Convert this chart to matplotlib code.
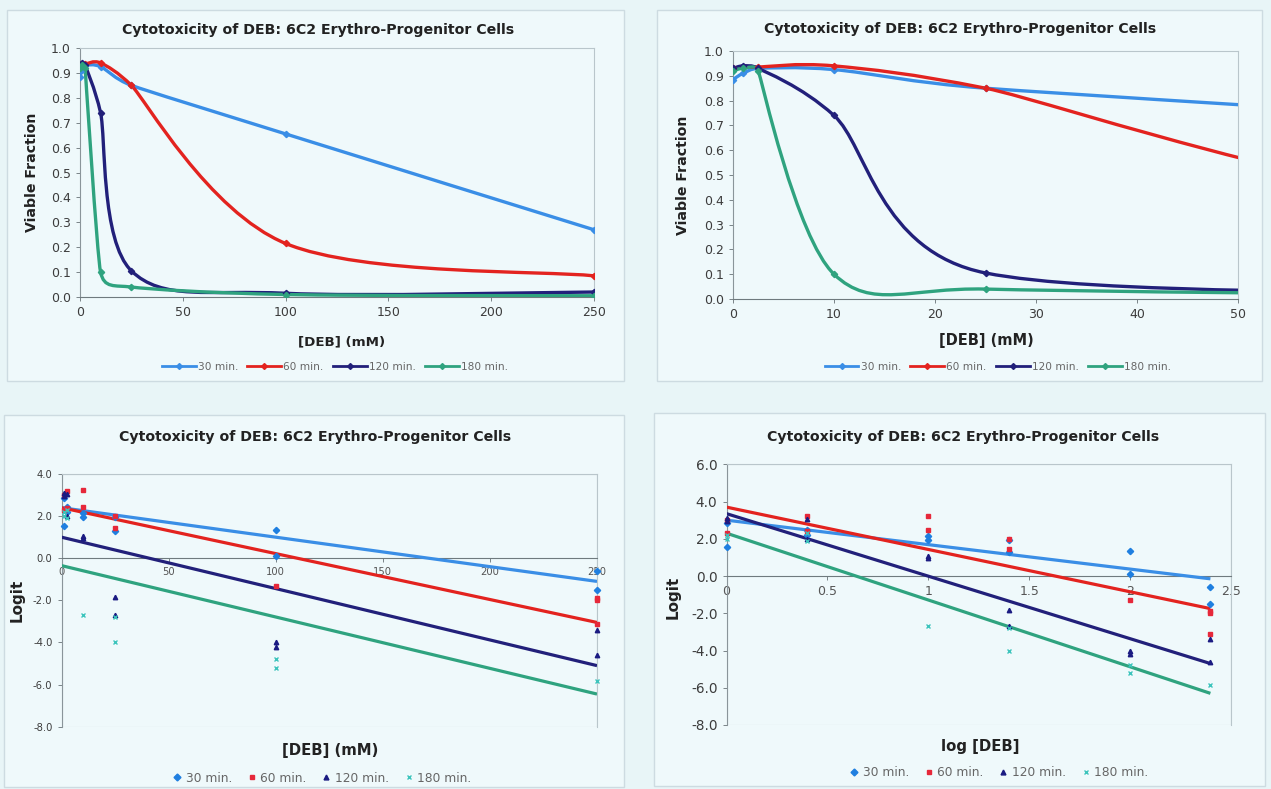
import numpy as np
import matplotlib
matplotlib.use('Agg')
import matplotlib.pyplot as plt
from matplotlib.path import Path
from matplotlib.patches import PathPatch, Rectangle
from matplotlib.lines import Line2D

# viability data (mean viable fraction) vs [DEB] mM
deb = [0, 1, 2.5, 10, 25, 100, 250]
via_30 = [0.885, 0.91, 0.93, 0.925, 0.85, 0.655, 0.27]
via_60 = [0.93, 0.935, 0.935, 0.94, 0.85, 0.215, 0.085]
via_120 = [0.93, 0.94, 0.93, 0.74, 0.105, 0.015, 0.02]
via_180 = [0.92, 0.93, 0.92, 0.10, 0.04, 0.01, 0.005]

# logit of replicates
conc_30 = [1, 1, 2.5, 2.5, 10, 10, 25, 25, 100, 100, 250, 250]
logit_30 = [1.55, 2.85, 2.45, 2.2, 2.15, 1.95, 1.95, 1.3, 1.35, 0.1, -0.6, -1.5]
conc_60 = [1, 1, 2.5, 2.5, 10, 10, 25, 25, 100, 250, 250, 250]
logit_60 = [3.0, 2.3, 3.2, 2.4, 3.25, 2.45, 2.0, 1.45, -1.3, -1.9, -2.0, -3.1]
conc_120 = [1, 1, 2.5, 2.5, 10, 10, 25, 25, 100, 100, 250, 250]
logit_120 = [3.1, 2.95, 3.05, 2.0, 1.05, 0.95, -1.85, -2.7, -4.0, -4.2, -3.4, -4.6]
conc_180 = [1, 1, 2.5, 2.5, 10, 25, 25, 100, 100, 250]
logit_180 = [2.2, 2.0, 2.3, 1.9, -2.7, -2.8, -4.0, -4.8, -5.2, -5.85]

# trend lines (value at first and last x)
trend_lin = {'30': (2.4, -1.1), '60': (2.4, -3.05), '120': (1.0, -5.1), '180': (-0.35, -6.45)}
trend_log = {'30': (3.0, -0.15), '60': (3.7, -1.75), '120': (3.35, -4.7), '180': (2.3, -6.3)}

labels = ['30 min.', '60 min.', '120 min.', '180 min.']
keys = ['30', '60', '120', '180']
line_col = ['#3a8ee6', '#e3231f', '#22207a', '#2fa37f']
dot_col = ['#1f7fe0', '#e6283a', '#1b1b82', '#3cc4bc']
dot_mk = ['D', 's', '^', 'x']

W, H = 1271, 789
fig = plt.figure(figsize=(W / 100, H / 100), dpi=100, facecolor='#e8f5f7')
plt.rcParams['font.family'] = 'DejaVu Sans'


def px(x0, y0, x1, y1):
    return [x0 / W, 1 - y1 / H, (x1 - x0) / W, (y1 - y0) / H]


def smooth_path(ax, x, y):
    # excel-style bezier smoothing, computed in screen space
    pts = ax.transData.transform(np.column_stack([x, y]).astype(float))
    n = len(pts)
    tang = []
    for i in range(n):
        a = pts[i - 1] if i > 0 else pts[i]
        b = pts[i + 1] if i + 1 < n else pts[i]
        v = (b - a) / 6
        lim = min(np.hypot(*(pts[i] - a)) if i > 0 else np.inf,
                  np.hypot(*(b - pts[i])) if i + 1 < n else np.inf) / 2
        L = np.hypot(*v)
        if L > lim:
            v = v * lim / L
        tang.append(v)
    verts = [pts[0]]
    codes = [Path.MOVETO]
    for i in range(n - 1):
        verts += [pts[i] + tang[i], pts[i + 1] - tang[i + 1], pts[i + 1]]
        codes += [Path.CURVE4] * 3
    verts = ax.transData.inverted().transform(np.array(verts))
    return Path(verts, codes)


# chart area boxes
for (a, b, c, d) in [(7, 10, 624, 381), (657, 10, 1262, 381), (4, 415, 624, 787), (654, 413, 1265, 786)]:
    fig.patches.append(Rectangle((a / W, 1 - d / H), (c - a) / W, (d - b) / H,
                                 transform=fig.transFigure, facecolor='#eff9fb',
                                 edgecolor='#cddbe1', lw=1.0, zorder=-5))

title = 'Cytotoxicity of DEB: 6C2 Erythro-Progenitor Cells'


def style(ax, ls):
    ax.set_facecolor('none')
    for s in ax.spines.values():
        s.set_color('#b9c6cb')
        s.set_linewidth(0.8)
    ax.spines['left'].set_color('#8a959a')
    ax.spines['bottom'].set_color('#6f7a7e')
    ax.tick_params(direction='out', length=3, width=0.7, color='#7a8488',
                   labelsize=ls, labelcolor='#3c3c3c')


def ftext(x, y, s, **kw):
    fig.text(x / W, 1 - y / H, s, ha='center', va='center', **kw)


# ---- top panels: viability
via = [via_30, via_60, via_120, via_180]
for rect, xmax, xt, tpos, ylpos, xlpos, xls, legpos in [
        (px(80, 48, 594, 297), 250, [0, 50, 100, 150, 200, 250], (318, 30), (32, 172), (342, 342), 9.6, (335, 367)),
        (px(733, 51, 1238, 299), 50, [0, 10, 20, 30, 40, 50], (960, 29), (683, 175), (986, 340), 10.5, (998, 367))]:
    ax = fig.add_axes(rect)
    style(ax, 9)
    ax.set_xlim(0, xmax)
    ax.set_ylim(0, 1.0)
    handles = []
    for v, c, lab in zip(via, line_col, labels):
        ax.add_patch(PathPatch(smooth_path(ax, deb, v), facecolor='none', edgecolor=c, lw=2.4, zorder=3))
        ax.plot(deb, v, ls='none', marker='D', ms=3.2, color=c, zorder=4)
        handles.append(Line2D([], [], color=c, lw=2.0, marker='D', ms=3))
    ax.set_xticks(xt)
    ax.set_yticks(np.arange(0, 1.01, 0.1))
    ax.set_yticklabels(['%.1f' % t for t in np.arange(0, 1.01, 0.1)])
    ftext(*tpos, title, fontsize=10.2, fontweight='bold', color='#222222')
    ftext(*ylpos, 'Viable Fraction', fontsize=10.2, fontweight='bold', rotation=90, color='#222222')
    ftext(*xlpos, '[DEB] (mM)', fontsize=xls, fontweight='bold', color='#222222')
    ax.legend(handles, labels, loc='center', ncol=4, frameon=False, fontsize=7.6,
              labelcolor='#666666', handlelength=3.2, handletextpad=0.2, columnspacing=0.9,
              bbox_to_anchor=(legpos[0] / W, 1 - legpos[1] / H), bbox_transform=fig.transFigure)

# ---- bottom panels: logit
concs = [conc_30, conc_60, conc_120, conc_180]
logits = [logit_30, logit_60, logit_120, logit_180]
for rect, uselog, trend, xlim, ylim, xt, xtl, tls, tpos, ylpos, xlab, xlpos, legpos in [
        (px(61.5, 474, 597, 726.7), False, trend_lin, (0, 250), (-8, 4), [0, 50, 100, 150, 200, 250],
         ['0', '50', '100', '150', '200', '250'], (7.2, 7.2), (315, 437), (17, 600), '[DEB] (mM)', (330, 750), (322, 778)),
        (px(726.5, 464.3, 1231, 725), True, trend_log, (0, 2.5), (-8, 6), [0, 0.5, 1, 1.5, 2, 2.5],
         ['0', '0.5', '1', '1.5', '2', '2.5'], (9.8, 9), (963, 437), (673, 597), 'log [DEB]', (980, 747), (999, 773))]:
    ax = fig.add_axes(rect)
    style(ax, tls[0])
    ax.spines['bottom'].set_position(('data', 0))
    ax.add_patch(Rectangle((0, 0), 1, 1, transform=ax.transAxes, facecolor='none',
                           edgecolor='#b9c6cb', lw=0.8, zorder=1))
    xend = np.log10(250) if uselog else 250
    handles = []
    for k, cx, lg, lc, dc, mk, lab in zip(keys, concs, logits, line_col, dot_col, dot_mk, labels):
        xs = np.log10(cx) if uselog else np.array(cx)
        ax.plot([0, xend], trend[k], color=lc, lw=2.3, zorder=3, solid_capstyle='butt')
        ax.plot(xs, lg, ls='none', marker=mk, ms=3.2, mew=1.0, color=dc, zorder=4, clip_on=False)
        handles.append(Line2D([], [], ls='none', marker=mk, ms=3.5, mew=1.0, color=dc))
    ax.set_xlim(*xlim)
    ax.set_ylim(*ylim)
    ax.set_xticks(xt)
    ax.set_xticklabels(xtl)
    yt = np.arange(ylim[0], ylim[1] + 0.1, 2)
    ax.set_yticks(yt)
    ax.set_yticklabels(['%.1f' % t for t in yt])
    ax.tick_params(axis='x', labelsize=tls[1], labelcolor='#555555')
    ftext(*tpos, title, fontsize=10.2, fontweight='bold', color='#222222')
    ftext(*ylpos, 'Logit', fontsize=11, fontweight='bold', rotation=90, color='#222222')
    ftext(*xlpos, xlab, fontsize=10.7, fontweight='bold', color='#222222')
    ax.legend(handles, labels, loc='center', ncol=4, frameon=False, fontsize=8.8,
              labelcolor='#666666', handlelength=0.8, handletextpad=0.3, columnspacing=1.2,
              bbox_to_anchor=(legpos[0] / W, 1 - legpos[1] / H), bbox_transform=fig.transFigure)

fig.savefig('out.png', dpi=100, facecolor=fig.get_facecolor())
